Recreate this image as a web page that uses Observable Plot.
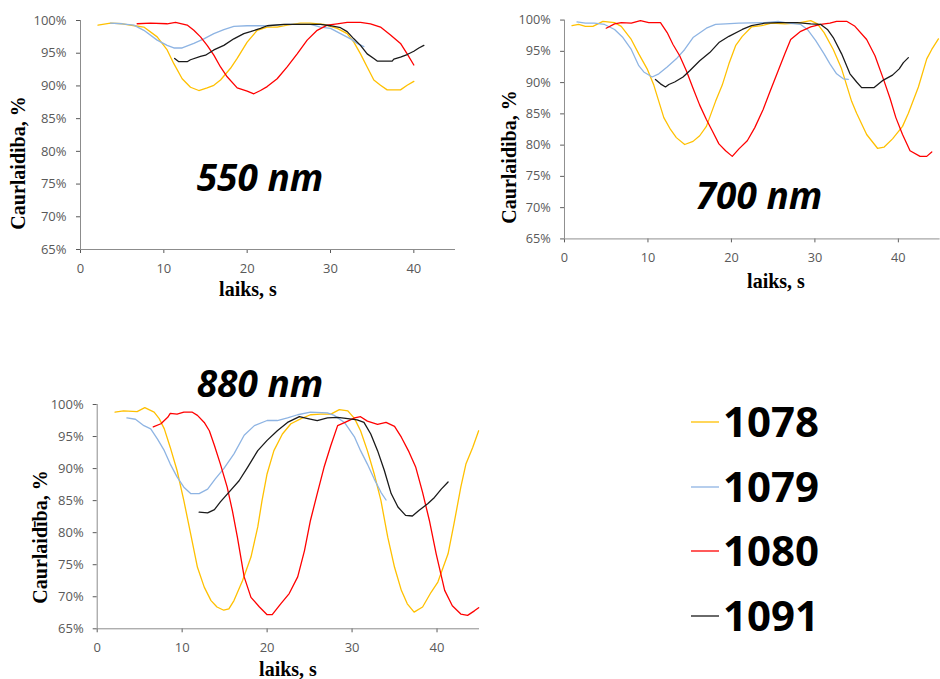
<!DOCTYPE html>
<html>
<head>
<meta charset="utf-8">
<script src="https://cdn.jsdelivr.net/npm/d3@7"></script>
<script src="https://cdn.jsdelivr.net/npm/@observablehq/plot@0.6"></script>
<style>
  html, body { margin: 0; padding: 0; background: #fff; overflow: hidden; }
  #root { position: relative; width: 940px; height: 679px; overflow: hidden; }
  .panel { position: absolute; }
  #overlay { position: absolute; left: 0; top: 0; pointer-events: none; }
</style>
</head>
<body>
<div id="root"></div>
<script>
// ---------- data (time s, transmittance %) ----------
const ticksX = [0, 10, 20, 30, 40];
const ticksY = [65, 70, 75, 80, 85, 90, 95, 100];
const seriesNames = ["1078", "1079", "1080", "1091"];
const panelTitles = ["550 nm", "700 nm", "880 nm"];

const p550_1078 = [[2.1,99.3],[3.6,99.6],[5,99.5],[6.5,99.2],[7.6,99.0],[9.2,97.5],[10.4,95.5],[11.2,93.4],[12.2,91.1],[13.2,89.8],[14.2,89.3],[15.2,89.7],[16,90.1],[16.8,90.9],[18,92.7],[18.8,94.2],[20,96.7],[21.2,98.5],[22.4,99.0],[23.6,99.0],[24.8,99.3],[26.4,99.6],[27.6,99.6],[29.2,99.4],[30.8,98.8],[32,98.0],[32.8,96.7],[33.6,94.9],[34.4,92.9],[35.2,90.9],[36,90.1],[36.8,89.4],[38.4,89.4],[39.2,90.1],[40,90.7]];
const p550_1079 = [[3.6,99.6],[5,99.5],[6.4,99.3],[7.6,98.5],[9.2,97.0],[10.4,96.2],[11.2,95.8],[12.2,95.8],[13.6,96.5],[14.8,97.2],[16,98.0],[17.2,98.6],[18.4,99.1],[20,99.2],[22.4,99.2],[24.8,99.4],[27.6,99.4],[28.8,99.0],[30,98.8],[31.2,98.0],[32.4,97.2],[33.2,96.5],[34,96.0]];
const p550_1080 = [[6.8,99.5],[8.4,99.6],[10.4,99.5],[11.4,99.7],[12.8,99.3],[13.6,98.5],[14.4,97.5],[15.2,96.2],[16,94.7],[16.8,92.9],[17.6,91.4],[18.8,89.7],[20,89.2],[20.8,88.8],[21.6,89.3],[22.4,89.9],[23.6,91.1],[24.8,92.9],[26,94.9],[27.2,97.0],[28.4,98.5],[29.6,99.3],[30.8,99.5],[32,99.7],[33.6,99.7],[34.8,99.5],[36,99.0],[37.2,97.8],[38.4,96.5],[39.2,94.9],[40,93.2]];
const p550_1091 = [[11.3,94.2],[11.8,93.7],[12.8,93.7],[13.2,94.0],[14.4,94.5],[15,94.7],[16,95.5],[17.2,96.2],[18.4,97.2],[19.6,98.0],[20.4,98.3],[21.6,98.8],[22.4,99.2],[24.4,99.4],[26.4,99.4],[28.8,99.4],[30,99.2],[31.2,98.9],[32,98.3],[32.8,97.2],[33.6,96.2],[34.4,94.9],[35.2,94.2],[35.6,93.8],[37.4,93.8],[37.6,94.1],[38.4,94.4],[39.2,94.8],[40,95.3],[40.6,95.8],[41.2,96.2]];

const p700_1078 = [[0.9,99.1],[1.7,99.3],[2.5,99.0],[3.4,99.0],[4.6,99.8],[6,99.6],[6.8,99.0],[8,96.9],[8.9,94.6],[9.9,92.2],[10.7,89.6],[11.3,87.0],[11.9,84.4],[12.7,82.5],[13.4,81.2],[14.4,80.1],[15.4,80.6],[16.2,81.5],[17,83.0],[18.1,87.0],[18.9,89.6],[19.7,93.0],[20.5,95.9],[21.3,97.4],[22.4,98.9],[23.6,99.1],[24.8,99.5],[26.4,99.4],[27.9,99.5],[29.5,99.9],[30.3,99.4],[31.1,98.0],[32.2,95.3],[33.2,92.2],[34.4,87.0],[35,85.1],[36.2,81.7],[37.5,79.5],[38.3,79.7],[39.3,81.0],[40.5,83.0],[41.2,85.1],[42.4,89.3],[43.4,93.8],[44,95.3],[44.8,97.0]];
const p700_1079 = [[1.5,99.7],[2.5,99.5],[3.6,99.5],[4.8,99.3],[6,98.5],[7,97.2],[8,95.3],[8.9,92.7],[9.5,91.7],[10.5,90.9],[11.3,91.4],[12.3,92.5],[13.4,93.8],[14.4,95.3],[15.4,97.2],[17,98.7],[18.1,99.3],[19.3,99.4],[20.9,99.5],[24,99.6],[25.6,99.8],[26.8,99.5],[28.3,99.3],[29.1,98.5],[30.1,96.7],[31.1,94.6],[31.8,93.0],[32.6,91.4],[33.4,90.6],[34,90.5]];
const p700_1080 = [[5,98.7],[6,99.4],[6.8,99.6],[8,99.5],[9.1,99.9],[10.1,99.6],[11.5,99.6],[12.3,98.0],[13,96.1],[13.8,94.3],[14.6,91.9],[15.4,89.1],[16.2,86.4],[17,84.1],[17.7,82.3],[18.5,80.2],[19.3,79.1],[20.1,78.2],[20.9,79.4],[21.9,80.7],[22.8,82.8],[23.8,85.7],[24.6,88.5],[25.6,91.9],[26.4,94.6],[27.1,96.9],[28.3,98.2],[29.5,98.9],[30.7,99.3],[31.8,99.5],[32.6,99.8],[33.8,99.8],[34.8,99.0],[36.2,96.9],[37.2,94.3],[38.2,90.6],[39,87.5],[39.7,84.4],[40.5,81.7],[41.4,79.1],[42.6,78.2],[43.4,78.2],[44,78.9]];
const p700_1091 = [[10.9,90.5],[11.5,89.8],[12.1,89.3],[12.5,89.7],[13.2,90.1],[14.2,90.9],[15,91.9],[16.2,93.5],[17.4,94.8],[18.5,96.4],[19.7,97.4],[21.3,98.5],[22.4,99.1],[24,99.5],[25.6,99.6],[27.9,99.6],[29.5,99.4],[30.7,99.3],[31.5,98.5],[32.2,97.2],[33.2,94.6],[34.2,91.4],[35,90.1],[35.6,89.2],[37.1,89.2],[38.2,90.4],[39.3,91.2],[40.1,92.2],[40.6,93.2],[41.2,94.0]];

const p880_1078 = [[2.1,98.8],[3.1,99.0],[4.7,98.9],[5.6,99.5],[6.7,98.8],[7.3,97.8],[7.9,96.2],[8.6,93.3],[9.4,89.7],[10.2,85.0],[11,79.8],[11.8,74.6],[12.6,71.5],[13.4,69.4],[14.1,68.4],[14.9,67.9],[15.5,68.1],[16.1,69.4],[17.1,72.5],[18.1,76.2],[18.9,80.9],[19.4,85.0],[20,89.2],[20.8,92.8],[21.8,95.4],[22.8,97.0],[24,97.8],[25.1,98.4],[26.3,98.5],[27.5,98.5],[28.5,99.2],[29.5,99.0],[30.3,97.8],[31,95.9],[31.8,92.8],[32.6,89.2],[33.4,85.0],[34.2,79.3],[35,74.6],[35.8,71.0],[36.5,68.9],[37.3,67.6],[38.3,68.4],[39.3,70.7],[40.1,72.3],[41.3,76.7],[42,81.4],[42.8,87.1],[43.4,90.7],[44.2,93.3],[44.9,95.9]];
const p880_1079 = [[3.5,97.9],[4.5,97.7],[5.5,96.7],[6.3,96.2],[7.1,94.6],[7.9,92.8],[8.6,90.7],[9.4,88.7],[10.2,87.1],[11,86.1],[12,86.1],[13,86.8],[13.9,88.4],[14.9,90.0],[16.1,92.3],[17.3,95.2],[18.5,96.7],[20,97.5],[21.2,97.5],[22.4,97.9],[23.6,98.4],[25.1,98.8],[27.1,98.7],[27.9,98.3],[29.1,97.2],[30.3,94.9],[31,92.8],[31.8,90.7],[32.6,88.4],[33.4,86.3],[34,85.1]];
const p880_1080 = [[6.6,96.5],[7.5,97.0],[8.3,98.0],[8.6,98.6],[9.4,98.5],[10.2,98.8],[11.2,98.8],[11.8,98.3],[12.6,97.2],[13.2,95.9],[13.8,93.6],[14.5,90.7],[15.3,87.1],[15.9,83.5],[16.5,79.3],[17.3,73.1],[18.1,69.9],[19.1,68.4],[20,67.2],[20.6,67.2],[21.6,68.9],[22.6,70.5],[23.6,73.1],[24.4,77.2],[25.1,81.9],[25.9,86.1],[26.7,90.2],[27.5,93.6],[28.3,96.7],[29.3,97.3],[30.3,97.9],[31,98.1],[31.8,97.4],[33,96.9],[34,97.2],[35,96.6],[35.8,94.9],[36.7,92.6],[37.5,90.2],[38.3,86.3],[39.1,81.9],[39.9,76.7],[40.9,71.0],[41.8,68.6],[42.8,67.3],[43.6,67.1],[44.4,67.8],[44.9,68.3]];
const p880_1091 = [[12,83.2],[13,83.1],[13.8,83.6],[14.5,84.8],[15.7,86.6],[16.7,88.1],[17.7,90.2],[18.9,92.8],[20,94.4],[21.2,95.9],[22.4,97.2],[23.8,98.1],[24.8,97.8],[25.9,97.5],[27.1,97.9],[28.3,98.0],[29.5,97.8],[30.6,97.6],[31.4,97.2],[32.2,95.4],[33,92.8],[33.8,89.7],[34.6,86.1],[35.4,84.0],[36.3,82.7],[37.1,82.6],[37.9,83.5],[38.9,84.5],[39.7,85.5],[40.5,86.8],[41.3,87.9]];

// ---------- styles ----------
const seriesColors = ["#FFC000", "#8EB4E3", "#FF0000", "#1a1a1a"];
const axisGrey = "#8c8c8c";

const root = document.getElementById("root");

function panel(seriesData, cfg) {
  const marks = [
    Plot.ruleX([0], {stroke: axisGrey}),
    Plot.ruleY([65], {stroke: axisGrey})
  ];
  seriesData.forEach((arr, i) => {
    marks.push(Plot.line(arr, {
      x: d => d[0], y: d => d[1],
      stroke: seriesColors[i], strokeWidth: 1.3
    }));
  });
  const chart = Plot.plot({
    width: cfg.width, height: cfg.height,
    marginLeft: cfg.ml, marginRight: cfg.mr, marginTop: cfg.mt, marginBottom: cfg.mb,
    style: {fontFamily: "'Open Sans', sans-serif", fontSize: "13px", color: "#595959", background: "transparent", overflow: "visible"},
    x: {domain: [0, 45], ticks: ticksX, tickSize: 4, tickPadding: cfg.tpx, label: null},
    y: {domain: [65, 100], ticks: ticksY, tickFormat: d => d + "%", tickSize: 4, tickPadding: cfg.tpy, label: null},
    marks
  });
  const div = document.createElement("div");
  div.className = "panel";
  div.style.left = cfg.left + "px";
  div.style.top = cfg.top + "px";
  div.appendChild(chart);
  root.appendChild(div);
}

panel([p550_1078, p550_1079, p550_1080, p550_1091],
  {left: 0, top: 0, width: 460, height: 300, ml: 80, mr: 5, mt: 20, mb: 51, tpx: 10, tpy: 10});
panel([p700_1078, p700_1079, p700_1080, p700_1091],
  {left: 470, top: 0, width: 480, height: 300, ml: 96, mr: 0.4, mt: 20, mb: 56.5, tpx: 10, tpy: 10});
panel([p880_1078, p880_1079, p880_1080, p880_1091],
  {left: 0, top: 360, width: 480, height: 319, ml: 96.7, mr: 1, mt: 44, mb: 50.7, tpx: 9.5, tpy: 9.5});

// ---------- overlay texts & legend ----------
const svg = d3.create("svg").attr("id", "overlay").attr("width", 940).attr("height", 679);
const serif = "'Liberation Serif', 'Times New Roman', serif";
const sans = "'Open Sans', sans-serif";

function ytitle(x, y, txt) {
  svg.append("text").attr("transform", `translate(${x},${y}) rotate(-90)`)
    .attr("text-anchor", "middle").attr("font-family", serif).attr("font-weight", "bold")
    .attr("font-size", 20).attr("fill", "#000").text(txt);
}
function xtitle(x, y, txt) {
  svg.append("text").attr("x", x).attr("y", y)
    .attr("text-anchor", "middle").attr("font-family", serif).attr("font-weight", "bold")
    .attr("font-size", 20).attr("fill", "#000").text(txt);
}
function bigLabel(x, y, txt) {
  svg.append("text").attr("x", x).attr("y", y)
    .attr("text-anchor", "middle").attr("font-family", sans).attr("font-weight", "bold")
    .attr("font-style", "italic").attr("font-size", 37).attr("fill", "#000").text(txt);
}

ytitle(25, 163, "Caurlaidiba, %");
ytitle(516, 157, "Caurlaidiba, %");
ytitle(47, 537, "Caurlaidība, %");
xtitle(248, 296, "laiks, s");
xtitle(776, 288, "laiks, s");
xtitle(288, 676, "laiks, s");
bigLabel(260, 191, panelTitles[0]);
bigLabel(759, 209, panelTitles[1]);
bigLabel(260, 397, panelTitles[2]);

const legendY = [422, 487, 551, 616];
seriesNames.forEach((name, i) => {
  svg.append("line").attr("x1", 691).attr("x2", 719).attr("y1", legendY[i]).attr("y2", legendY[i])
    .attr("stroke", seriesColors[i]).attr("stroke-width", 1.3);
  svg.append("text").attr("x", 723).attr("y", legendY[i] + 15)
    .attr("font-family", sans).attr("font-weight", "bold").attr("font-size", 42)
    .attr("fill", "#000").text(name);
});

root.appendChild(svg.node());
</script>
</body>
</html>
